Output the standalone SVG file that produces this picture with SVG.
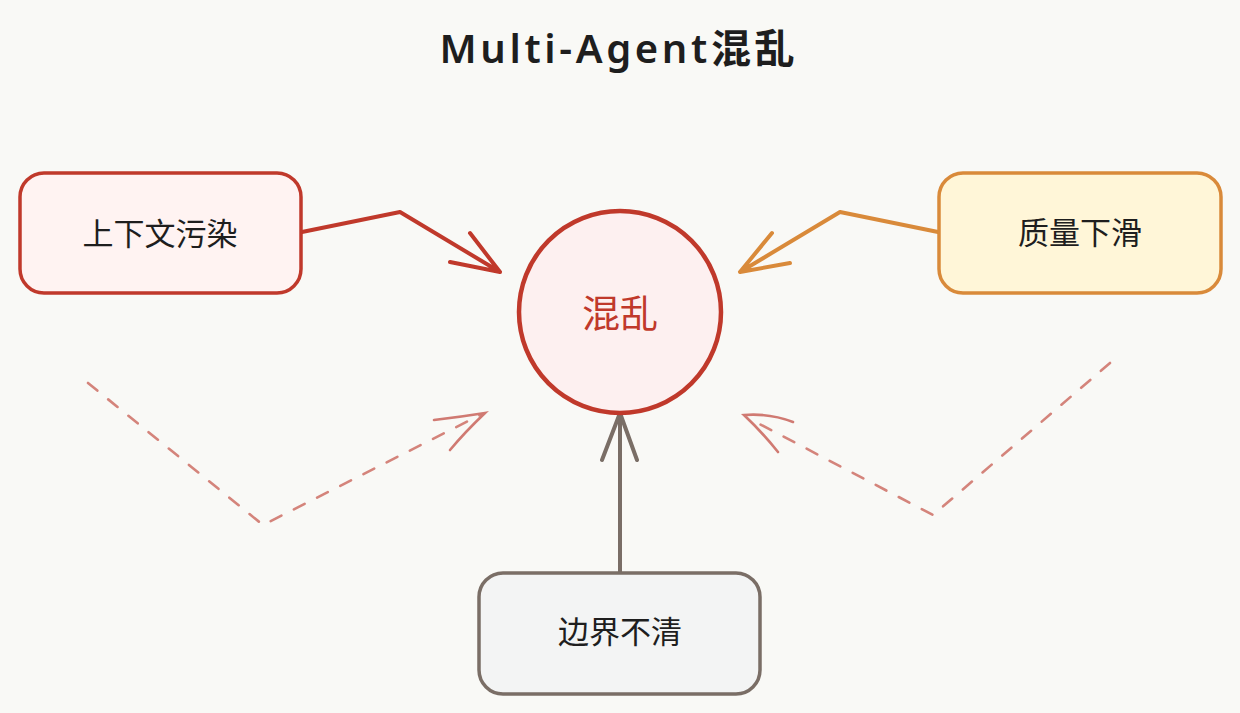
<svg xmlns="http://www.w3.org/2000/svg" width="1240" height="713" viewBox="0 0 1240 713">
<style>
.lbl{font-family:"Noto Sans CJK SC","Noto Sans",sans-serif;font-size:31px;fill:#1e1e1e;text-anchor:middle;dominant-baseline:central}
.title{font-family:"Noto Sans","Noto Sans CJK SC",sans-serif;font-size:40px;font-weight:600;fill:#1e1e1e;text-anchor:middle}
.conn{fill:none;stroke-linecap:round;stroke-linejoin:round}
.dash{fill:none;stroke:#d4847b;stroke-width:2.6;stroke-dasharray:12 14;stroke-linecap:round}
.head{fill:none;stroke:#d07a72;stroke-width:2.6;stroke-linecap:round}
</style>
<rect width="1240" height="713" fill="#f9f9f6"/>
<text class="title" x="617" y="63" textLength="355" lengthAdjust="spacing">Multi-Agent混乱</text>
<g id="connectors">
  <path class="conn" d="M302 232 L400 212 L500 272 M450 262 L500 272 L470 233" stroke="#c0392b" stroke-width="4"/>
  <path class="conn" d="M938 232 L840 212 L740 272 M790 263 L740 272 L772 233" stroke="#d98a3a" stroke-width="4"/>
  <path class="conn" d="M620 572 L620 413 M602 460 L620 413 L637 460" stroke="#7a6e66" stroke-width="4"/>
  <path class="dash" d="M88 383 L263 525 L480 415"/>
  <path class="head" d="M434 420 Q460 417 485 413 Q465 432 450 450"/>
  <path class="dash" d="M1110 363 L933 515 L750 419"/>
  <path class="head" d="M793 422 Q770 413 744 415 Q762 432 778 452"/>
</g>
<g id="node-pollution">
  <rect x="20" y="173" width="281" height="120" rx="24" fill="#fff3f2" stroke="#c0392b" stroke-width="3.5"/>
  <text class="lbl" x="160" y="231">上下文污染</text>
</g>
<g id="node-quality">
  <rect x="939" y="173" width="282" height="120" rx="24" fill="#fff6d8" stroke="#d98a3a" stroke-width="3.5"/>
  <text class="lbl" x="1080" y="230">质量下滑</text>
</g>
<g id="node-chaos">
  <circle cx="620" cy="312" r="101" fill="#fdf0f0" stroke="#c0392b" stroke-width="4.5"/>
  <text class="lbl" x="620" y="310" style="fill:#c0392b;font-size:38px">混乱</text>
</g>
<g id="node-boundary">
  <rect x="479" y="573" width="281" height="121" rx="24" fill="#f3f4f4" stroke="#7a6e66" stroke-width="3.5"/>
  <text class="lbl" x="620" y="629">边界不清</text>
</g>
</svg>
